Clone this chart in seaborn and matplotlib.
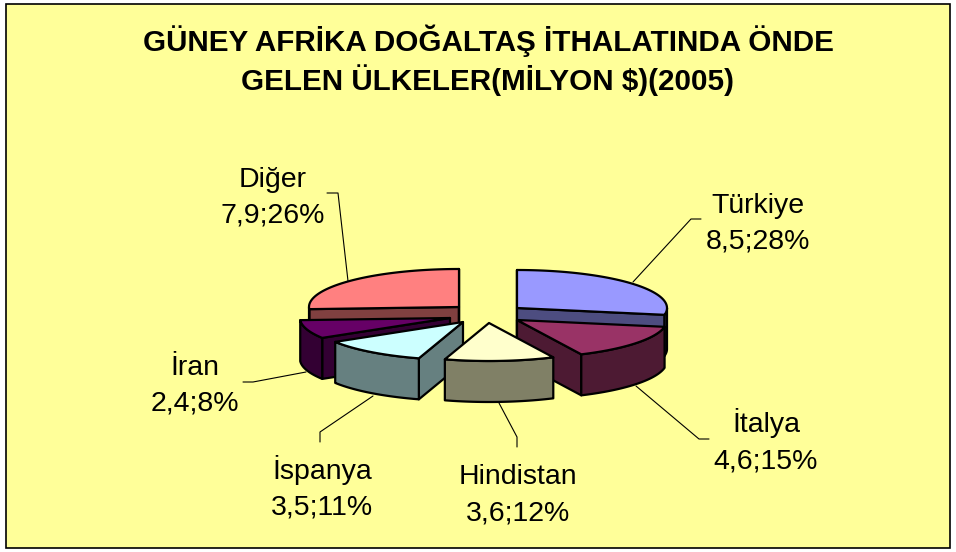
import numpy as np
import matplotlib
matplotlib.use('Agg')
import matplotlib.pyplot as plt
import seaborn as sns

# values from the chart
ulkeler = ['Türkiye', 'İtalya', 'Hindistan', 'İspanya', 'İran', 'Diğer']
degerler = [8.5, 4.6, 3.6, 3.5, 2.4, 7.9]
yuzdeler = [28, 15, 12, 11, 8, 26]
baslik = 'GÜNEY AFRİKA DOĞALTAŞ İTHALATINDA ÖNDE\nGELEN ÜLKELER(MİLYON $)(2005)'

# colours and layout, in pixels of the picture
ust_renk = ['#9999FF', '#993366', '#FFFFCC', '#CCFFFF', '#660066', '#FF8080']
yan_renk = ['#4D4D80', '#4D1A33', '#808066', '#668080', '#330033', '#804040']
merkez = [(517, 308), (517, 320), (489, 323), (463, 322), (450, 318), (459, 307)]
etiket_yer = [(758, 249), (766, 468), (518, 520), (322, 515), (195, 411), (273, 223)]
cizgiler = [[(633, 282), (691, 219), (701, 219)],
            [(636, 386), (699, 439), (709, 439)],
            [(499, 403), (517, 437), (517, 447)],
            [(373, 396), (320, 432), (320, 442)],
            [(306, 372), (253, 382), (243, 382)],
            [(348, 281), (338, 193), (327, 193)]]
sira = [5, 0, 1, 4, 3, 2]  # back to front
rx, ry, derinlik = 150, 38, 41

sns.set_style('white')
plt.rcParams['font.family'] = ['Liberation Sans', 'DejaVu Sans']

fig = plt.figure(figsize=(9.56, 5.52), dpi=100, facecolor='white')
ax = fig.add_axes([0, 0, 1, 1])
ax.set_xlim(0, 956)
ax.set_ylim(552, 0)
ax.axis('off')

ax.fill([6.5, 950, 950, 6.5], [3.5, 3.5, 548, 548], facecolor='#FFFF99',
        edgecolor='black', linewidth=1.2, zorder=0)

for cizgi in cizgiler:
    xs, ys = zip(*cizgi)
    ax.plot(xs, ys, color='black', linewidth=0.8, zorder=1)

# slice angles from the values, clockwise from 12 o'clock
sinirlar = np.cumsum([0] + degerler) / sum(degerler) * 2 * np.pi


def kenar(cx, cy, a, dy=0):
    return cx + rx * np.sin(a), cy - ry * np.cos(a) + dy


cizim = dict(edgecolor='black', linewidth=1.6, joinstyle='round')
z = 2
for i in sira:
    cx, cy = merkez[i]
    a1, a2 = sinirlar[i], sinirlar[i + 1]
    aci = np.linspace(a1, a2, 80)

    # cut faces, only those turned to the viewer
    for a, gorunur in ((a1, -np.sin(a1) > -1e-6), (a2, np.sin(a2) > -1e-6)):
        if gorunur:
            x, y = kenar(cx, cy, a)
            ax.fill([cx, x, x, cx], [cy, y, y + derinlik, cy + derinlik],
                    facecolor=yan_renk[i], zorder=z, **cizim)

    # rim, same thing
    on = aci[(aci >= np.pi / 2) & (aci <= 3 * np.pi / 2)]
    if len(on) > 1:
        x, y = kenar(cx, cy, on)
        ax.fill(np.r_[x, x[::-1]], np.r_[y, y[::-1] + derinlik],
                facecolor=yan_renk[i], zorder=z, **cizim)

    # top
    x, y = kenar(cx, cy, aci)
    ax.fill(np.r_[cx, x], np.r_[cy, y], facecolor=ust_renk[i], zorder=z, **cizim)
    z += 1

ax.text(488, 90, baslik, ha='center', va='baseline', fontsize=21.3, color='black',
        fontweight='bold', linespacing=1.29, zorder=20)

for ulke, d, p, (tx, ty) in zip(ulkeler, degerler, yuzdeler, etiket_yer):
    ax.text(tx, ty, f"{ulke}\n{str(d).replace('.', ',')};{p}%", ha='center',
            va='baseline', fontsize=20.5, color='black', linespacing=1.52, zorder=20)

fig.savefig('out.png', dpi=100, facecolor='white')
